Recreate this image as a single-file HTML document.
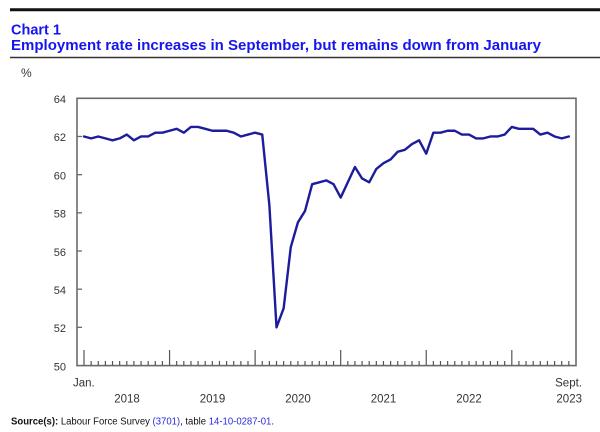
<!DOCTYPE html>
<html>
<head>
<meta charset="utf-8">
<style>
  html, body { margin: 0; padding: 0; background: #ffffff; }
  body { width: 600px; height: 432px; overflow: hidden; }
  svg { display: block; }
  text { font-family: "Liberation Sans", Arial, sans-serif; }
</style>
</head>
<body>
<svg width="600" height="432" viewBox="0 0 600 432" xmlns="http://www.w3.org/2000/svg">
  <!-- header rules -->
  <line x1="10" y1="9.7" x2="600" y2="9.7" stroke="#111" stroke-width="3"/>
  <line x1="10" y1="57.5" x2="600" y2="57.5" stroke="#333" stroke-width="1.5"/>

  <!-- title -->
  <text x="11" y="34.7" font-size="14.5" font-weight="bold" fill="#1515f0">Chart 1</text>
  <text x="11" y="50" font-size="14.5" font-weight="bold" fill="#1515f0" textLength="530" lengthAdjust="spacingAndGlyphs">Employment rate increases in September, but remains down from January</text>

  <!-- unit -->
  <text x="21" y="77" font-size="12" fill="#333">%</text>

  <!-- y labels -->
  <g font-size="11" fill="#333" text-anchor="end">
    <text x="66" y="103">64</text>
    <text x="66" y="141.2">62</text>
    <text x="66" y="179.4">60</text>
    <text x="66" y="217.6">58</text>
    <text x="66" y="255.8">56</text>
    <text x="66" y="294">54</text>
    <text x="66" y="332.2">52</text>
    <text x="66" y="370.3">50</text>
  </g>

  <!-- plot frame -->
  <rect x="77" y="98.3" width="499" height="267.3" fill="none" stroke="#6a6a6a" stroke-width="1.6"/>

  <!-- y ticks -->
  <g stroke="#6a6a6a" stroke-width="1.3">
    <line x1="77" y1="136.48" x2="82" y2="136.48"/>
    <line x1="77" y1="174.66" x2="82" y2="174.66"/>
    <line x1="77" y1="212.84" x2="82" y2="212.84"/>
    <line x1="77" y1="251.02" x2="82" y2="251.02"/>
    <line x1="77" y1="289.2" x2="82" y2="289.2"/>
    <line x1="77" y1="327.38" x2="82" y2="327.38"/>
  </g>

  <!-- x ticks -->
  <g stroke="#555" stroke-width="1.2">
    <line x1="84" y1="350" x2="84" y2="365.5"/>
    <line x1="169.56" y1="350" x2="169.56" y2="365.5"/>
    <line x1="255.12" y1="350" x2="255.12" y2="365.5"/>
    <line x1="340.68" y1="350" x2="340.68" y2="365.5"/>
    <line x1="426.24" y1="350" x2="426.24" y2="365.5"/>
    <line x1="511.8" y1="350" x2="511.8" y2="365.5"/>
    <path d="M91.13 361V365.5M98.26 361V365.5M105.39 361V365.5M112.52 361V365.5M119.65 361V365.5M126.78 361V365.5M133.91 361V365.5M141.04 361V365.5M148.17 361V365.5M155.3 361V365.5M162.43 361V365.5
             M176.69 361V365.5M183.82 361V365.5M190.95 361V365.5M198.08 361V365.5M205.21 361V365.5M212.34 361V365.5M219.47 361V365.5M226.6 361V365.5M233.73 361V365.5M240.86 361V365.5M247.99 361V365.5
             M262.25 361V365.5M269.38 361V365.5M276.51 361V365.5M283.64 361V365.5M290.77 361V365.5M297.9 361V365.5M305.03 361V365.5M312.16 361V365.5M319.29 361V365.5M326.42 361V365.5M333.55 361V365.5
             M347.81 361V365.5M354.94 361V365.5M362.07 361V365.5M369.2 361V365.5M376.33 361V365.5M383.46 361V365.5M390.59 361V365.5M397.72 361V365.5M404.85 361V365.5M411.98 361V365.5M419.11 361V365.5
             M433.37 361V365.5M440.5 361V365.5M447.63 361V365.5M454.76 361V365.5M461.89 361V365.5M469.02 361V365.5M476.15 361V365.5M483.28 361V365.5M490.41 361V365.5M497.54 361V365.5M504.67 361V365.5
             M518.93 361V365.5M526.06 361V365.5M533.19 361V365.5M540.32 361V365.5M547.45 361V365.5M554.58 361V365.5M561.71 361V365.5M568.84 361V365.5" fill="none"/>
  </g>

  <!-- data line -->
  <polyline fill="none" stroke="#1c1c9c" stroke-width="2.4" stroke-linejoin="round" stroke-linecap="round"
    points="84,136.48 91.13,138.39 98.26,136.48 105.39,138.39 112.52,140.3 119.65,138.39 126.78,134.57 133.91,140.3 141.04,136.48 148.17,136.48 155.3,132.66 162.43,132.66
            169.56,130.75 176.69,128.84 183.82,132.66 190.95,126.94 198.08,126.94 205.21,128.84 212.34,130.75 219.47,130.75 226.6,130.75 233.73,132.66 240.86,136.48 247.99,134.57
            255.12,132.66 262.25,134.57 269.38,205.2 276.51,327.38 283.64,308.29 290.77,247.2 297.9,222.39 305.03,210.93 312.16,184.21 319.29,182.3 326.42,180.39 333.55,184.21
            340.68,197.57 347.81,182.3 354.94,167.02 362.07,178.48 369.2,182.3 376.33,168.93 383.46,163.21 390.59,159.39 397.72,151.75 404.85,149.84 411.98,144.12 419.11,140.3
            426.24,153.66 433.37,132.66 440.5,132.66 447.63,130.75 454.76,130.75 461.89,134.57 469.02,134.57 476.15,138.39 483.28,138.39 490.41,136.48 497.54,136.48 504.67,134.57
            511.8,126.94 518.93,128.84 526.06,128.84 533.19,128.84 540.32,134.57 547.45,132.66 554.58,136.48 561.71,138.39 568.84,136.48"/>

  <!-- x labels -->
  <g font-size="11.5" fill="#333">
    <text x="73" y="386.5">Jan.</text>
    <text x="582" y="386.5" text-anchor="end">Sept.</text>
    <text x="127" y="402.5" text-anchor="middle">2018</text>
    <text x="212.5" y="402.5" text-anchor="middle">2019</text>
    <text x="298" y="402.5" text-anchor="middle">2020</text>
    <text x="383.5" y="402.5" text-anchor="middle">2021</text>
    <text x="469" y="402.5" text-anchor="middle">2022</text>
    <text x="582" y="402.5" text-anchor="end">2023</text>
  </g>

  <!-- source -->
  <text x="11" y="424.5" font-size="10" fill="#111" textLength="263" lengthAdjust="spacingAndGlyphs"><tspan font-weight="bold">Source(s):</tspan> Labour Force Survey <tspan fill="#2a2ae0">(3701)</tspan>, table <tspan fill="#2a2ae0">14-10-0287-01</tspan>.</text>
</svg>
</body>
</html>
